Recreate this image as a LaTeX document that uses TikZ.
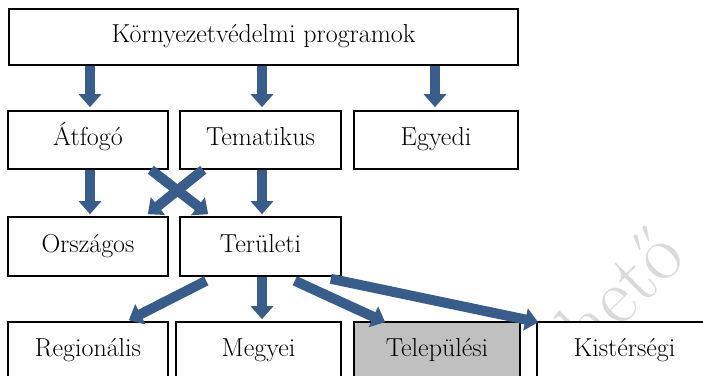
\documentclass[tikz,border=0pt]{standalone}
\usepackage{fontspec}
\usetikzlibrary{arrows.meta}
\definecolor{ablue}{RGB}{56,93,138}
\definecolor{tgray}{RGB}{192,192,192}
\definecolor{wmgray}{RGB}{218,218,218}
\tikzset{
  box/.style={draw=black, line width=1.6pt, fill=white, inner sep=0pt,
    font=\fontsize{26}{30}\selectfont, text height=17pt, text depth=6pt},
  arr/.style={draw=ablue, line width=10pt, -{Triangle[width=22pt,length=13pt]}},
  wm/.style={text=wmgray, font=\fontsize{80}{90}\selectfont, rotate=45, inner sep=0pt}
}
\begin{document}
\begin{tikzpicture}[x=1pt,y=-1pt]
\useasboundingbox (0,0) rectangle (703,375);
\clip (0,0) rectangle (703,375);
\node[wm] (wmark) at (620,290) {hető};
\node[box, minimum width=509pt, minimum height=56pt] (top) at (263.5,37) {Környezetvédelmi programok};
\node[box, minimum width=160pt, minimum height=58pt] (atf) at (88,140) {Átfogó};
\node[box, minimum width=161pt, minimum height=58pt] (tem) at (260.5,140) {Tematikus};
\node[box, minimum width=164pt, minimum height=58pt] (egy) at (436,140) {Egyedi};
\node[box, minimum width=160pt, minimum height=59pt] (orsz) at (88,246.5) {Országos};
\node[box, minimum width=161pt, minimum height=59pt] (ter) at (260.5,246.5) {Területi};
\node[box, minimum width=160pt, minimum height=58pt] (reg) at (88,351) {Regionális};
\node[box, minimum width=165pt, minimum height=58pt] (megy) at (258.5,351) {Megyei};
\node[box, fill=tgray, minimum width=166pt, minimum height=58pt] (tel) at (437,351) {Települési};
\node[box, minimum width=175pt, minimum height=58pt] (kis) at (624.5,351) {Kistérségi};
% arrows
\draw[arr] ([xshift=2pt]top.south -| atf.center) -- ([xshift=2pt,yshift=3pt]atf.north);
\draw[arr] ([xshift=1.5pt]top.south -| tem.center) -- ([xshift=1.5pt,yshift=3pt]tem.north);
\draw[arr] ([xshift=-1pt]top.south -| egy.center) -- ([xshift=-1pt,yshift=3pt]egy.north);
\draw[arr] ([xshift=2pt]atf.south) -- ([xshift=2pt,yshift=2pt]orsz.north);
\draw[arr] ([xshift=1.5pt]tem.south) -- ([xshift=1.5pt,yshift=2pt]ter.north);
\draw[arr] ([xshift=-18pt]atf.south east) -- ([xshift=29pt,yshift=2pt]ter.north west);
\draw[arr] ([xshift=24pt]tem.south west) -- ([xshift=-21pt,yshift=2pt]orsz.north east);
\draw[arr] ([xshift=27pt,yshift=-4pt]ter.south west) -- ([xshift=-40pt,yshift=1pt]reg.north east);
\draw[arr] ([xshift=1.5pt]ter.south) -- ([xshift=3.5pt,yshift=2pt]megy.north);
\draw[arr] ([xshift=-47pt,yshift=-4pt]ter.south east) -- ([xshift=32pt,yshift=-1pt]tel.north west);
\draw[arr] ([xshift=-11pt,yshift=-2pt]ter.south east) -- ([xshift=2pt,yshift=-1pt]kis.north west);
\end{tikzpicture}
\end{document}
